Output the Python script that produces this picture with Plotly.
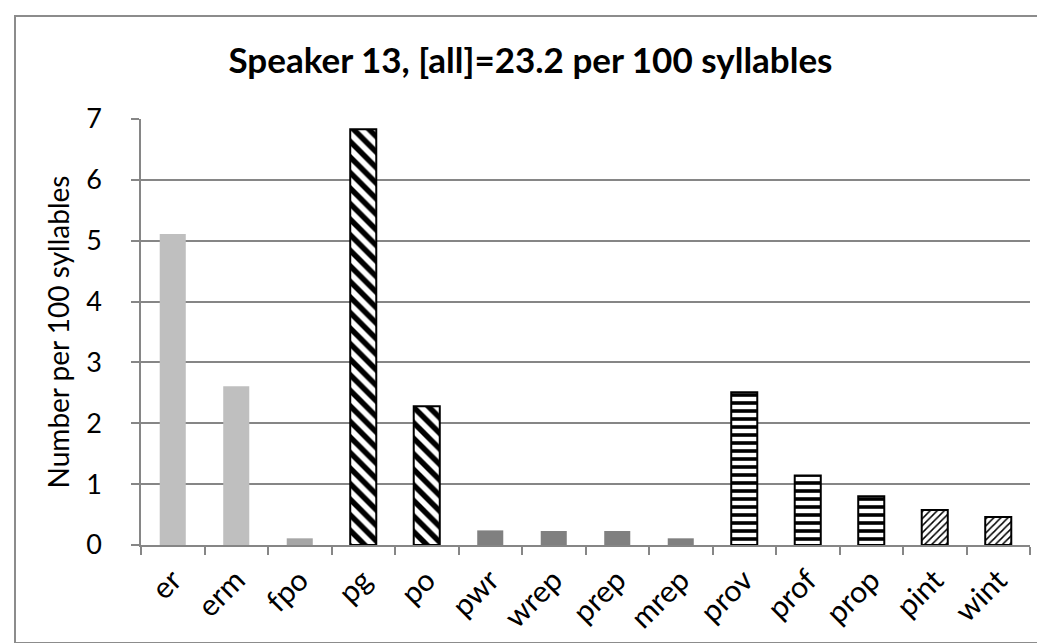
import plotly.graph_objects as go

categories = ["er", "erm", "fpo", "pg", "po", "pwr", "wrep", "prep", "mrep",
              "prov", "prof", "prop", "pint", "wint"]
values = [5.11, 2.61, 0.11, 6.83, 2.28, 0.24, 0.23, 0.23, 0.11,
          2.51, 1.14, 0.80, 0.575, 0.46]
groups = ["filled", "filled", "filled2", "pause", "pause",
          "rep", "rep", "rep", "rep",
          "prol", "prol", "prol", "int", "int"]
title_text = "Speaker 13, [all]=23.2 per 100 syllables"
y_title = "Number per 100 syllables"

styles = {
    "filled": dict(color="#BFBFBF", shape="", size=8, sol=0.3, lw=0),
    "filled2": dict(color="#A6A6A6", shape="", size=8, sol=0.3, lw=0),
    "rep": dict(color="#808080", shape="", size=8, sol=0.3, lw=0),
    "pause": dict(color="white", shape="\\", size=11, sol=0.5, lw=2),
    "prol": dict(color="white", shape="-", size=8, sol=0.45, lw=2),
    "int": dict(color="white", shape="/", size=5, sol=0.3, lw=2),
}

fig = go.Figure()
for g, st in styles.items():
    xs = [c for c, gg in zip(categories, groups) if gg == g]
    ys = [v for v, gg in zip(values, groups) if gg == g]
    marker = dict(color=st["color"], line=dict(color="black", width=st["lw"]))
    if st["shape"]:
        marker["pattern"] = dict(shape=st["shape"], fgcolor="black", bgcolor="white",
                                 size=st["size"], solidity=st["sol"], fillmode="overlay",
                                 fgopacity=1)
    fig.add_trace(go.Bar(x=xs, y=ys, marker=marker, width=0.41, name=g))

L, R, T, B = 133, 23, 111, 106
pw = 1045 - L - R
ph = 643 - T - B

fig.update_layout(
    width=1045, height=643,
    margin=dict(l=L, r=R, t=T, b=B, pad=0),
    paper_bgcolor="white", plot_bgcolor="white",
    font=dict(family="Lato, Open Sans, sans-serif", color="black"),
    title=dict(text="<b>" + title_text + "</b>", x=0.5, xanchor="center",
               y=1 - 53 / 643, yanchor="middle", font=dict(size=35)),
    showlegend=False, barmode="overlay",
    shapes=[dict(type="rect", xref="paper", yref="paper",
                 x0=(7 - L) / pw, x1=(1037 - L) / pw,
                 y0=(537 - 635) / ph, y1=(537 - 8) / ph,
                 line=dict(color="#8C8C8C", width=2), fillcolor="rgba(0,0,0,0)",
                 layer="below")],
)
fig.update_xaxes(
    type="category", categoryorder="array", categoryarray=categories,
    tickson="boundaries", ticks="outside", ticklen=8,
    tickcolor="#868686", tickwidth=1.5,
    showline=True, linecolor="#868686", linewidth=1.5,
    tickangle=-45, tickfont=dict(size=30), showgrid=False,
    ticklabelstandoff=4,
)
fig.update_yaxes(
    range=[0, 7], dtick=1, ticks="outside", ticklen=8,
    tickcolor="#868686", tickwidth=1.5,
    showline=True, linecolor="#868686", linewidth=1.5,
    showgrid=True, gridcolor="#868686", gridwidth=1.5,
    tickfont=dict(size=27), zeroline=False, ticklabelstandoff=24,
    title=dict(text=y_title, font=dict(size=28), standoff=8),
)

fig.write_html("out.html")
